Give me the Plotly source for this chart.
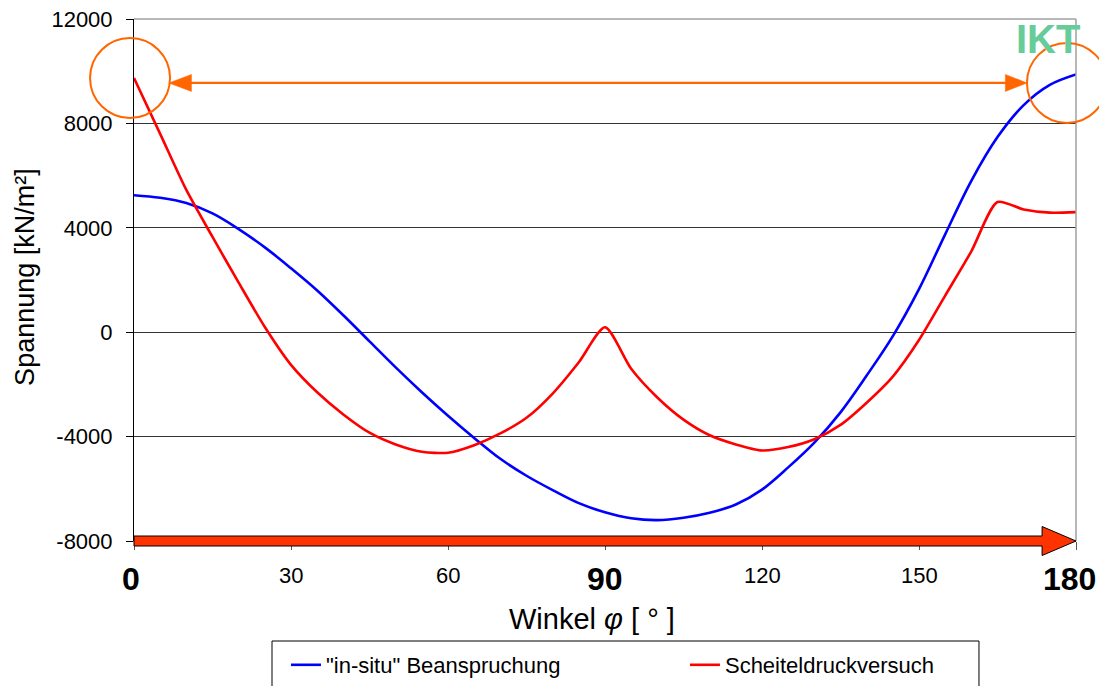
import plotly.graph_objects as go

# Winkel (deg) and stress values [kN/m²] for the two load cases
phi = [0, 5, 10, 15, 20, 25, 30, 35, 40, 45, 50, 55, 60, 65, 70, 75, 80, 85, 90,
       95, 100, 105, 110, 115, 120, 125, 130, 135, 140, 145, 150, 155, 160, 165,
       170, 175, 180]
sigma_insitu = [5250, 5150, 4950, 4550, 3950, 3250, 2450, 1600, 650, -350, -1350, -2300,
                -3200, -4050, -4850, -5500, -6050, -6550, -6900, -7130, -7200, -7110,
                -6920, -6600, -6030, -5180, -4230, -3070, -1660, -150, 1650, 3750, 5800,
                7475, 8700, 9475, 9875]
sigma_scheitel = [9740, 7600, 5450, 3650, 1900, 200, -1250, -2300, -3150, -3850, -4300,
                  -4580, -4620, -4330, -3880, -3280, -2350, -1150, 190, -1400, -2500,
                  -3350, -3950, -4300, -4530, -4400, -4100, -3550, -2700, -1700, -300,
                  1400, 3100, 4990, 4700, 4580, 4600]

series_names = ['"in-situ" Beanspruchung', "Scheiteldruckversuch"]

y_ticks = [-8000, -4000, 0, 4000, 8000, 12000]
y_tick_labels = ["-8000", "-4000", "0", "4000", "8000", "12000"]
x_ticks = [0, 30, 60, 90, 120, 150, 180]
x_tick_labels = ["0", "30", "60", "90", "120", "150", "180"]
x_major = [0, 90, 180]

FONT = "Liberation Sans, Arial, sans-serif"
Y_MIN, Y_MAX = -8000, 12000


def ypaper(v):
    return (v - Y_MIN) / (Y_MAX - Y_MIN)


fig = go.Figure()
fig.add_trace(go.Scatter(x=phi, y=sigma_insitu, mode="lines", name=series_names[0],
                         line=dict(color="#0000FF", width=2.6, shape="spline", smoothing=1)))
fig.add_trace(go.Scatter(x=phi, y=sigma_scheitel, mode="lines", name=series_names[1],
                         line=dict(color="#FF0000", width=2.6, shape="spline", smoothing=0.7)))

shapes = []
# gray frame on top and right
shapes.append(dict(type="line", xref="paper", yref="paper", x0=0, x1=1, y0=1, y1=1,
                   line=dict(color="#A0A0A0", width=1.5), layer="above"))
shapes.append(dict(type="line", xref="paper", yref="paper", x0=1, x1=1, y0=0, y1=1,
                   line=dict(color="#A0A0A0", width=1.5), layer="above"))

# thick red arrow along the bottom axis
shapes.append(dict(type="path", xref="paper", yref="paper", ysizemode="pixel",
                   yanchor=ypaper(Y_MIN),
                   path="M 0,5 L 0.964,5 L 0.964,14.5 L 1,0 L 0.964,-14.5 L 0.964,-5 L 0,-5 Z",
                   fillcolor="#FF3300", line=dict(color="#000000", width=1), layer="above"))

# orange double arrow near the top
arrow_y = ypaper(9550)
shapes.append(dict(type="line", xref="paper", yref="paper", x0=0.055, x1=0.93,
                   y0=arrow_y, y1=arrow_y, line=dict(color="#FF6600", width=2.2), layer="above"))
shapes.append(dict(type="path", xref="paper", yref="paper", ysizemode="pixel", yanchor=arrow_y,
                   path="M 0.037,0 L 0.061,8.5 L 0.061,-8.5 Z",
                   fillcolor="#FF6600", line=dict(color="#FF6600", width=0.5), layer="above"))
shapes.append(dict(type="path", xref="paper", yref="paper", ysizemode="pixel", yanchor=arrow_y,
                   path="M 0.948,0 L 0.925,8.5 L 0.925,-8.5 Z",
                   fillcolor="#FF6600", line=dict(color="#FF6600", width=0.5), layer="above"))

# orange circles at both ends
for cx, cy in [(-0.0042, ypaper(9740)), (0.9904, ypaper(9550))]:
    shapes.append(dict(type="circle", xref="paper", yref="paper", xsizemode="pixel",
                       ysizemode="pixel", xanchor=cx, yanchor=cy, x0=-40, x1=40, y0=-40, y1=40,
                       line=dict(color="#FF6600", width=2), layer="above"))

# legend frame (runs off the bottom edge)
shapes.append(dict(type="rect", xref="paper", yref="paper", x0=0.1465, x1=0.897,
                   y0=-0.40, y1=-0.1916, line=dict(color="#000000", width=1),
                   fillcolor="rgba(0,0,0,0)"))

annotations = []
# x tick labels, with bold emphasis at 0, 90 and 180
for v, t in zip(x_ticks, x_tick_labels):
    if v in x_major:
        shift = -3 if v == 0 else (-7 if v == 180 else 0)
        annotations.append(dict(x=v, xref="x", y=-0.072, yref="paper", text="<b>" + t + "</b>",
                                showarrow=False, xanchor="center", yanchor="middle", xshift=shift,
                                font=dict(family=FONT, size=32, color="#000000")))
    else:
        annotations.append(dict(x=v, xref="x", y=-0.0655, yref="paper", text=t,
                                showarrow=False, xanchor="center", yanchor="middle",
                                font=dict(family=FONT, size=22, color="#000000")))

annotations.append(dict(x=0.4857, y=-0.149, xref="paper", yref="paper",
                        text="Winkel <i>φ</i> [ ° ]", showarrow=False,
                        xanchor="center", yanchor="middle",
                        font=dict(family=FONT, size=29, color="#000000")))
annotations.append(dict(x=-0.1157, y=0.506, xref="paper", yref="paper",
                        text="Spannung [kN/m²]", textangle=-90, showarrow=False,
                        xanchor="center", yanchor="middle",
                        font=dict(family=FONT, size=27, color="#000000")))
# institute logo
annotations.append(dict(x=0.970, y=0.961, xref="paper", yref="paper", text="<b>IKT</b>",
                        showarrow=False, xanchor="center", yanchor="middle",
                        font=dict(family=FONT, size=40, color="#66CC99")))

fig.update_layout(
    width=1099, height=686,
    margin=dict(l=134, r=23, t=19, b=145, autoexpand=False),
    paper_bgcolor="#FFFFFF", plot_bgcolor="#FFFFFF",
    font=dict(family=FONT, size=22, color="#000000"),
    shapes=shapes, annotations=annotations,
    legend=dict(orientation="h", xref="container", yref="container",
                x=0.2602, xanchor="left", y=0.0306, yanchor="middle",
                bgcolor="rgba(0,0,0,0)", borderwidth=0,
                entrywidth=354, entrywidthmode="pixels",
                font=dict(family=FONT, size=22, color="#000000")),
    showlegend=True,
)
fig.update_xaxes(range=[0, 180], tickvals=x_ticks, showticklabels=False,
                 ticks="outside", ticklen=8, tickcolor="#555555",
                 showline=True, linecolor="#888888", linewidth=1, automargin=False,
                 showgrid=False, zeroline=False, fixedrange=True)
fig.update_yaxes(range=[Y_MIN, Y_MAX], tickvals=y_ticks, ticktext=y_tick_labels,
                 ticks="outside", ticklen=7, tickcolor="#000000", ticklabelstandoff=9,
                 showline=True, linecolor="#000000", linewidth=1, automargin=False,
                 showgrid=True, gridcolor="#333333", gridwidth=1, zeroline=False,
                 tickfont=dict(family=FONT, size=22, color="#000000"), fixedrange=True)

fig.write_html("out.html")
